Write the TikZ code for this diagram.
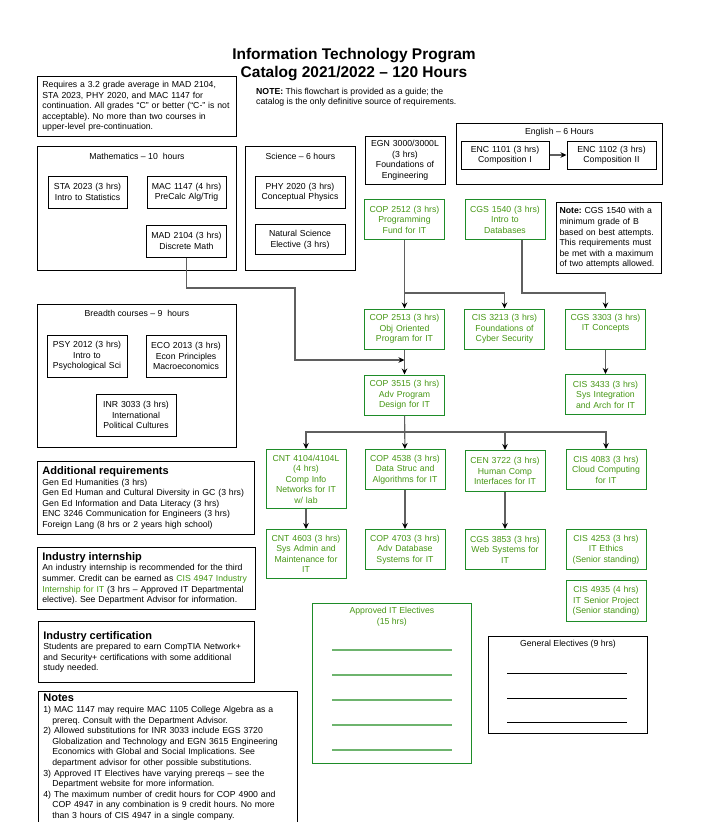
\documentclass[tikz,border=0pt]{standalone}
\usepackage{fontspec}
\setmainfont{Liberation Sans}
\usetikzlibrary{positioning,arrows.meta}
\definecolor{itgreen}{RGB}{30,140,40}
\definecolor{ittext}{RGB}{70,150,20}
\definecolor{itline}{RGB}{110,180,110}
\definecolor{linegray}{RGB}{95,95,95}
\tikzset{
>={Stealth[length=6pt,width=5.5pt,color=black]}, % black arrow heads on grey lines
every node/.style={font=\fontsize{8.7}{10.5}\selectfont,align=center},
course/.style={draw,line width=1pt,text width=76pt,inner xsep=2pt,inner ysep=2pt,minimum height=40pt},
itcourse/.style={course,draw=itgreen,text=ittext},
groupbox/.style={draw,line width=0.8pt,anchor=north west,inner sep=0pt},
grouptitle/.style={anchor=north,inner sep=0pt},
infobox/.style={draw,line width=0.8pt,anchor=north west,align=left,inner xsep=5pt,inner ysep=3pt,
  font=\fontsize{8.7}{10.6}\selectfont},
flow/.style={->,draw=linegray,line width=1.1pt},
on grid
}
\newcommand\infohead[1]{{\fontsize{11}{12}\selectfont\bfseries #1}}
\newcommand\itgr[1]{\textcolor{ittext}{#1}}

\begin{document}
\frenchspacing
\begin{tikzpicture}[x=1pt,y=-1pt]
   \useasboundingbox (0,0) rectangle (712,822);
   % heading
   \node[font=\fontsize{15.5}{18}\selectfont\bfseries] (title) at (354,64.5)
     {Information Technology Program\\Catalog 2021/2022 -- 120 Hours};
   \node[anchor=west,align=left,inner sep=0pt] (guide) at (256,97)
     {\textbf{NOTE:} This flowchart is provided as a guide; the\\catalog is the only definitive source of requirements.};
   \node[infobox,text width=189pt,minimum height=60pt] (gpa) at (37,76)
     {Requires a 3.2 grade average in MAD 2104,\\STA 2023, PHY 2020, and MAC 1147 for\\
      continuation. All grades ``C'' or better (``C-'' is not\\acceptable). No more than two courses in\\
      upper-level pre-continuation.};

   % mathematics
   \node[groupbox,minimum width=199pt,minimum height=124pt] (mathgrp) at (37,146) {};
   \node[grouptitle] at ([yshift=-7pt]mathgrp.north) {Mathematics -- 10~ hours};
   \node[course,text width=75pt,minimum height=32pt] (sta) at (87.5,192) {STA 2023 (3 hrs)\\Intro to Statistics};
   \node[course,text width=75pt,minimum height=32pt,right=99pt of sta] (mac) {MAC 1147 (4 hrs)\\PreCalc Alg/Trig};
   \node[course,minimum height=32pt,below=49pt of mac] (mad) {MAD 2104 (3 hrs)\\Discrete Math};

   % science
   \node[groupbox,minimum width=110pt,minimum height=124pt] (scigrp) at (245,146) {};
   \node[grouptitle] at ([yshift=-7pt]scigrp.north) {Science -- 6 hours};
   \node[course,text width=86pt,minimum height=32pt] (phy) at (300,192) {PHY 2020 (3 hrs)\\Conceptual Physics};
   \node[course,text width=86pt,minimum height=30pt,below=47.5pt of phy] (natsci) {Natural Science\\Elective (3 hrs)};

   % engineering and english
   \node[course,minimum height=48pt] (egn) at (405,160) {EGN 3000/3000L\\(3 hrs)\\Foundations of\\Engineering};
   \node[groupbox,minimum width=206pt,minimum height=61pt] (enggrp) at (456,123) {};
   \node[grouptitle] at ([yshift=-5pt]enggrp.north) {English -- 6 Hours};
   \node[course,text width=84pt,minimum height=28pt] (enc1) at (505,155) {ENC 1101 (3 hrs)\\Composition I};
   \node[course,text width=85pt,minimum height=28pt,right=106.5pt of enc1] (enc2) {ENC 1102 (3 hrs)\\Composition II};

   % IT core
   \node[itcourse] (cop2512) at (404.5,219.5) {COP 2512 (3 hrs)\\Programming\\Fund for IT};
   \node[itcourse,right=100.5pt of cop2512] (cgs1540) {CGS 1540 (3 hrs)\\Intro to\\Databases};
   \node[infobox,line width=1.1pt,text width=99pt,minimum height=71pt,inner xsep=3pt] (cgsnote) at (556,202)
     {\textbf{Note:} CGS 1540 with a\\minimum grade of B\\based on best attempts.\\This requirements must\\
      be met with a maximum\\of two attempts allowed.};
   \node[itcourse] (cop2513) at (404.5,329) {COP 2513 (3 hrs)\\Obj Oriented\\Program for IT};
   \node[itcourse,right=100pt of cop2513] (cis3213) {CIS 3213 (3 hrs)\\Foundations of\\Cyber Security};
   \node[itcourse,right=101pt of cis3213] (cgs3303) {CGS 3303 (3 hrs)\\IT Concepts\\\strut};
   \node[itcourse,below=66pt of cop2513] (cop3515) {COP 3515 (3 hrs)\\Adv Program\\Design for IT};
   \node[itcourse,below=65.5pt of cgs3303] (cis3433) {CIS 3433 (3 hrs)\\Sys Integration\\and Arch for IT};

   % upper level
   \node[itcourse,anchor=north,minimum height=59pt] (cnt4104) at (306,449)
     {CNT 4104/4104L\\(4 hrs)\\Comp Info\\Networks for IT\\w/ lab};
   \node[itcourse,anchor=north] (cop4538) at (405,449) {COP 4538 (3 hrs)\\Data Struc and\\Algorithms for IT};
   \node[itcourse,anchor=north,minimum height=41pt] (cen3722) at (505,450) {CEN 3722 (3 hrs)\\Human Comp\\Interfaces for IT};
   \node[itcourse,anchor=north] (cis4083) at (606,449) {CIS 4083 (3 hrs)\\Cloud Computing\\for IT};
   \node[itcourse,anchor=north,minimum height=49pt] (cnt4603) at (306,529)
     {CNT 4603 (3 hrs)\\Sys Admin and\\Maintenance for\\IT};
   \node[itcourse,anchor=north] (cop4703) at (405,529) {COP 4703 (3 hrs)\\Adv Database\\Systems for IT};
   \node[itcourse,anchor=north] (cgs3853) at (505,529) {CGS 3853 (3 hrs)\\Web Systems for\\IT};
   \node[itcourse,anchor=north] (cis4253) at (606,529) {CIS 4253 (3 hrs)\\IT Ethics\\(Senior standing)};
   \node[itcourse,anchor=north,minimum height=41pt] (cis4935) at (606,580) {CIS 4935 (4 hrs)\\IT Senior Project\\(Senior standing)};

   % breadth
   \node[groupbox,minimum width=199pt,minimum height=143pt] (brdgrp) at (37,304) {};
   \node[grouptitle] at ([yshift=-6pt]brdgrp.north) {Breadth courses -- 9~ hours};
   \node[course,minimum height=42pt] (psy) at (87,356) {PSY 2012 (3 hrs)\\Intro to\\Psychological Sci};
   \node[course,minimum height=42pt,right=99pt of psy] (eco) {ECO 2013 (3 hrs)\\Econ Principles\\Macroeconomics};
   \node[course,minimum height=42pt] (inr) at (136,415) {INR 3033 (3 hrs)\\International\\Political Cultures};

   % electives
   \node[groupbox,draw=itgreen,minimum width=159pt,minimum height=160pt] (itelec) at (312,603) {};
   \node[grouptitle,text=ittext] at ([yshift=-4pt]itelec.north) {Approved IT Electives\\(15 hrs)};
   \foreach \y in {650,675,...,750}
     \draw[itline,line width=1.2pt] (332,\y) -- (452,\y);
   \node[groupbox,line width=1pt,minimum width=159pt,minimum height=97pt] (genelec) at (488,636) {};
   \node[grouptitle] at ([yshift=-4pt]genelec.north) {General Electives (9 hrs)};
   \foreach \y in {673,698,722}
     \draw[line width=1pt] (507,\y) -- (627,\y);

   % left column notes
   \node[infobox,text width=207pt,minimum height=73pt] (addreq) at (37,461)
     {\infohead{Additional requirements}\\Gen Ed Humanities (3 hrs)\\Gen Ed Human and Cultural Diversity in GC (3 hrs)\\
      Gen Ed Information and Data Literacy (3 hrs)\\ENC 3246 Communication for Engineers (3 hrs)\\
      Foreign Lang (8 hrs or 2 years high school)};
   \node[infobox,text width=208pt,minimum height=62pt] (intern) at (37,547)
     {\infohead{Industry internship}\\An industry internship is recommended for the third\\
      summer. Credit can be earned as \itgr{CIS 4947 Industry}\\\itgr{Internship for IT} (3 hrs -- Approved IT Departmental\\
      elective). See Department Advisor for information.};
   \node[infobox,text width=206pt,minimum height=61pt,inner ysep=1pt] (cert) at (38,621)
     {\infohead{Industry certification}\\Students are prepared to earn CompTIA Network+\\
      and Security+ certifications with some additional\\study needed.\\[-4pt]};
   \node[infobox,text width=249pt,minimum height=129pt] (notes) at (38,691)
     {\infohead{Notes}\\1) MAC 1147 may require MAC 1105 College Algebra as a\\\hspace*{9pt}prereq. Consult with the Department Advisor.\\
      2) Allowed substitutions for INR 3033 include EGS 3720\\\hspace*{9pt}Globalization and Technology and EGN 3615 Engineering\\
      \hspace*{9pt}Economics with Global and Social Implications. See\\\hspace*{9pt}department advisor for other possible substitutions.\\
      3) Approved IT Electives have varying prereqs -- see the\\\hspace*{9pt}Department website for more information.\\
      4) The maximum number of credit hours for COP 4900 and\\\hspace*{9pt}COP 4947 in any combination is 9 credit hours. No more\\
      \hspace*{9pt}than 3 hours of CIS 4947 in a single company.};

   % prerequisite lines
   \coordinate (merge) at (cop2513.south |- 0,360);
   \draw[flow] (enc1) -- (enc2);
   \draw[flow] (mad.south) |- (295,288) -- (295,360) -- (merge);
   \draw[flow] (cop2512) -- (cop2513);
   \draw[flow] (cop2512.south |- 0,293) -| (cis3213.north);
   \draw[flow] ([xshift=17pt]cgs1540.south) |- (cgs3303.north |- 0,293) -- (cgs3303.north);
   \draw[flow] (cop2513) -- (cop3515);
   \draw[flow] (cgs3303) -- (cis3433);
   \draw[flow] (cop3515) -- (cop4538);
   \foreach \n in {cnt4104,cen3722,cis4083}
     \draw[flow] (cop3515.south |- 0,432) -| (\n.north);
   \draw[flow] (cnt4104) -- (cnt4603);
   \draw[flow] (cop4538) -- (cop4703);
   \draw[flow] (cen3722) -- (cgs3853);
\end{tikzpicture}
\end{document}
